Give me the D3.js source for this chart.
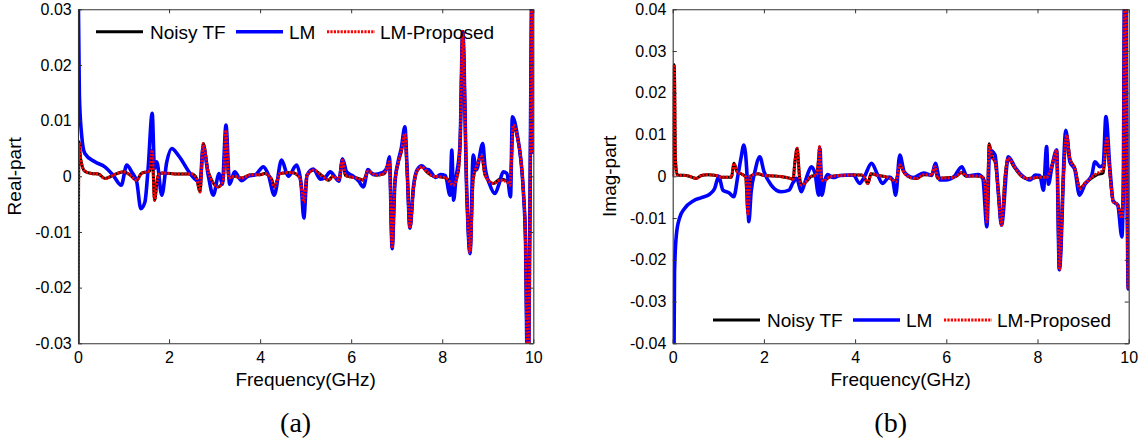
<!DOCTYPE html>
<html>
<head>
<meta charset="utf-8">
<script src="https://cdn.jsdelivr.net/npm/d3@7"></script>
<style>
  body { margin: 0; background: #fff; }
  svg text { font-family: Arial, "Liberation Sans", sans-serif; fill: #000; }
</style>
</head>
<body>
<svg id="chart" width="1143" height="442"></svg>
<script>
// ---- tick values ----
const freqTicks = [0, 2, 4, 6, 8, 10];
const realTicks = [-0.03, -0.02, -0.01, 0, 0.01, 0.02, 0.03];
const imagTicks = [-0.04, -0.03, -0.02, -0.01, 0, 0.01, 0.02, 0.03, 0.04];
const seriesNames = ["Noisy TF", "LM", "LM-Proposed"];

// ---- real part: [frequency (GHz), value] ----
const realNoisy = [
  [0, -0.04], [0.02, 0.0062], [0.06, 0.003], [0.15, 0.0009], [0.3, 0.0005], [0.45, 0.0004],
  [0.59, -0.0004], [0.8, 0.0003], [1.0, 0.0008], [1.15, 0.0002], [1.29, -0.0007], [1.39, 0.0005],
  [1.51, 0.0008], [1.58, 0.001], [1.63, 0.0047], [1.68, -0.0043], [1.76, 0.0002], [1.85, 0.0006],
  [2.2, 0.0004], [2.5, 0.0004], [2.6, -0.0003], [2.68, -0.0028], [2.75, 0.0059], [2.86, 0.0008],
  [3.08, -0.0019], [3.19, -0.0007], [3.25, 0.0083], [3.31, -0.0003], [3.44, 0], [3.59, -0.0003],
  [3.8, 0.0003], [4.0, 0.0003], [4.1, 0.0005], [4.25, -0.0005], [4.31, -0.0019], [4.44, 0.0005],
  [4.69, 0.0007], [4.87, -0.0002], [4.96, -0.0046], [5.03, 0.0002], [5.17, 0.0011], [5.39, -0.0001],
  [5.5, -0.0007], [5.6, 0], [5.73, -0.0006], [5.81, 0.0031], [5.87, 0.0002], [5.98, -0.0001],
  [6.12, -0.0003], [6.27, -0.0007], [6.37, 0.0009], [6.55, 0.0002], [6.73, 0.0005], [6.84, 0.0026],
  [6.9, -0.0129], [6.96, -0.001], [7.03, 0.0023], [7.1, 0.0044], [7.18, 0.0077], [7.23, 0.0005],
  [7.29, -0.0093], [7.37, -0.002], [7.45, 0.001], [7.55, 0.0017], [7.66, 0.0008], [7.81, 0],
  [7.96, -0.0001], [8.1, -0.0004], [8.24, -0.0016], [8.35, 0.0008], [8.39, 0.0056], [8.45, 0.026],
  [8.54, -0.0034], [8.61, -0.0137], [8.68, -0.0005], [8.75, 0.0017], [8.87, 0.0035], [8.94, 0.0002],
  [9.12, -0.0013], [9.27, -0.0005], [9.42, -0.0008], [9.49, -0.0016], [9.56, 0.009], [9.64, 0.0074],
  [9.78, -0.0025], [9.83, -0.012], [9.87, -0.035], [9.9, -0.032], [9.94, 0.01], [9.97, 0.035], [10, 0.004]
];
const realLM = [
  [0, 0.045], [0.01, 0.03], [0.03, 0.0146], [0.08, 0.0074], [0.15, 0.0041], [0.37, 0.0026],
  [0.59, 0.0017], [0.77, 0.0002], [0.95, -0.0016], [1.07, 0.002], [1.18, 0.0008], [1.29, -0.001],
  [1.38, -0.0058], [1.47, -0.0046], [1.54, 0.0014], [1.63, 0.0113], [1.68, 0.0014], [1.73, 0.0026],
  [1.84, -0.0034], [1.95, 0.0026], [2.06, 0.005], [2.2, 0.0038], [2.49, 0.0002], [2.6, -0.0007],
  [2.68, -0.001], [2.75, 0.0054], [2.86, 0.0002], [2.97, -0.0034], [3.1, 0.0005], [3.17, -0.0014],
  [3.25, 0.0092], [3.33, -0.0014], [3.44, 0.0008], [3.59, -0.0008], [3.73, 0], [3.9, 0.0003],
  [4.07, 0.0017], [4.18, 0.0003], [4.31, -0.0034], [4.47, 0.0029], [4.62, 0], [4.8, 0.002],
  [4.9, -0.0014], [4.96, -0.0075], [5.03, 0.0002], [5.17, 0.0013], [5.32, -0.0005], [5.43, -0.0002],
  [5.54, 0.0008], [5.65, -0.0002], [5.73, -0.0009], [5.81, 0.0031], [5.9, 0.0008], [6.05, 0],
  [6.16, -0.0008], [6.27, -0.0019], [6.37, 0.0012], [6.48, 0.0003], [6.7, 0.0007], [6.79, 0.0017],
  [6.84, 0.0035], [6.9, -0.013], [6.96, -0.0013], [7.03, 0.0026], [7.1, 0.005], [7.18, 0.0089],
  [7.23, 0.001], [7.29, -0.0093], [7.37, -0.0017], [7.45, 0.0012], [7.55, 0.0019], [7.64, 0.0013],
  [7.72, 0.0011], [7.85, -0.0002], [7.96, 0.0003], [8.07, 0.0001], [8.17, -0.0034], [8.21, 0.0047],
  [8.25, -0.0043], [8.3, -0.0005], [8.39, 0.0056], [8.45, 0.026], [8.54, -0.0034], [8.61, -0.0139],
  [8.68, 0.0038], [8.75, 0.0012], [8.89, 0.0059], [8.94, 0.0017], [9.04, -0.0014], [9.16, -0.0031],
  [9.25, -0.0013], [9.34, 0.0008], [9.42, 0.0005], [9.5, -0.0037], [9.54, 0.0107], [9.64, 0.0078],
  [9.78, -0.0025], [9.83, -0.012], [9.87, -0.035], [9.9, -0.032], [9.94, 0.01], [9.97, 0.035], [10, 0.004]
];
const realProposed = [
  [0, -0.04], [0.02, 0.0062], [0.06, 0.003], [0.15, 0.0009], [0.3, 0.0005], [0.45, 0.0004],
  [0.59, -0.0004], [0.8, 0.0003], [1.0, 0.0008], [1.15, 0.0002], [1.29, -0.0007], [1.39, 0.0005],
  [1.51, 0.0008], [1.58, 0.001], [1.63, 0.0047], [1.68, -0.0043], [1.76, 0.0002], [1.85, 0.0006],
  [2.2, 0.0004], [2.5, 0.0004], [2.6, -0.0003], [2.68, -0.0028], [2.75, 0.0059], [2.86, 0.0008],
  [3.08, -0.0019], [3.19, -0.0007], [3.25, 0.0083], [3.31, -0.0003], [3.44, 0], [3.59, -0.0003],
  [3.8, 0.0003], [4.0, 0.0003], [4.1, 0.0005], [4.25, -0.0005], [4.31, -0.0019], [4.44, 0.0005],
  [4.69, 0.0007], [4.87, -0.0002], [4.96, -0.0046], [5.03, 0.0002], [5.17, 0.0011], [5.39, -0.0001],
  [5.5, -0.0007], [5.6, 0], [5.73, -0.0006], [5.81, 0.0029], [5.87, 0.0002], [5.98, -0.0001],
  [6.12, -0.0003], [6.27, -0.0007], [6.37, 0.0009], [6.55, 0.0002], [6.73, 0.0005], [6.84, 0.0026],
  [6.9, -0.0129], [6.96, -0.001], [7.03, 0.0023], [7.1, 0.0044], [7.18, 0.0077], [7.23, 0.0005],
  [7.29, -0.0093], [7.37, -0.002], [7.45, 0.001], [7.55, 0.0017], [7.66, 0.0008], [7.81, 0],
  [7.96, -0.0001], [8.1, -0.0004], [8.24, -0.0016], [8.35, 0.0008], [8.39, 0.0056], [8.45, 0.026],
  [8.54, -0.0034], [8.61, -0.0137], [8.68, -0.0005], [8.75, 0.0017], [8.87, 0.0035], [8.94, 0.0002],
  [9.12, -0.0013], [9.27, -0.0007], [9.42, -0.001], [9.49, -0.0016], [9.56, 0.0092], [9.64, 0.0074],
  [9.78, -0.0025], [9.83, -0.012], [9.87, -0.035], [9.9, -0.032], [9.94, 0.01], [9.97, 0.035], [10, 0.004]
];

// ---- imaginary part: [frequency (GHz), value] ----
const imagNoisy = [
  [0, 0], [0.035, 0.0267], [0.06, 0.004], [0.1, 0.0003], [0.3, 0.0002], [0.52, -0.0005],
  [0.63, 0.0002], [0.77, 0.0004], [0.95, 0.0002], [1.07, -0.0002], [1.29, -0.0002], [1.34, 0.0031],
  [1.42, 0.001], [1.52, 0.0005], [1.6, -0.0002], [1.65, -0.009], [1.7, 0], [1.87, 0.0006],
  [2.0, 0.0002], [2.2, 0.0001], [2.4, -0.0001], [2.58, -0.0005], [2.64, -0.0007], [2.68, 0.0035],
  [2.73, 0.0067], [2.78, 0], [2.82, -0.0021], [2.93, -0.0012], [3.04, 0], [3.15, 0.0003],
  [3.2, 0.0043], [3.22, 0.0071], [3.26, -0.0004], [3.31, -0.0011], [3.45, -0.0001], [3.67, 0.0002],
  [3.96, 0.0003], [4.14, 0.0003], [4.2, -0.0002], [4.28, -0.0017], [4.35, 0.0006], [4.5, 0.0002],
  [4.7, -0.0002], [4.85, -0.001], [4.89, -0.0013], [4.98, 0.0027], [5.08, 0.0008], [5.21, -0.0003],
  [5.35, -0.0005], [5.5, 0.0004], [5.68, 0.0003], [5.75, 0.0023], [5.81, -0.0005], [5.96, -0.0004],
  [6.18, -0.0002], [6.34, 0.0009], [6.42, 0.0001], [6.64, 0.0001], [6.8, -0.0002], [6.85, -0.0021],
  [6.89, -0.0109], [6.94, 0.0078], [7.0, 0.0047], [7.07, 0.0035], [7.14, -0.0037], [7.21, -0.0117],
  [7.29, 0.0001], [7.36, 0.0043], [7.47, 0.0025], [7.63, 0.0002], [7.77, -0.0006], [7.92, -0.0004],
  [8.06, -0.0002], [8.2, -0.0002], [8.27, 0.001], [8.35, 0.0039], [8.42, 0.0063], [8.48, -0.0224],
  [8.57, 0.0004], [8.64, 0.0099], [8.71, 0.0043], [8.82, 0.0019], [8.93, -0.0029], [9.04, -0.0017],
  [9.19, -0.0004], [9.29, 0.0003], [9.44, 0.0008], [9.52, 0.0088], [9.59, 0.0004], [9.66, -0.0061],
  [9.76, -0.0069], [9.85, -0.01], [9.88, -0.004], [9.91, 0.045], [9.94, 0.04], [9.97, -0.01],
  [9.99, -0.027], [10, -0.02]
];
const imagLM = [
  [0, -0.06], [0.03, -0.04], [0.04, -0.0228], [0.08, -0.0141], [0.15, -0.01], [0.26, -0.0077],
  [0.45, -0.0059], [0.63, -0.0051], [0.81, -0.0043], [0.92, -0.0029], [1.01, 0], [1.1, -0.0033],
  [1.24, -0.004], [1.34, -0.0049], [1.43, 0.0002], [1.5, 0.0045], [1.56, 0.0075], [1.63, 0.0002],
  [1.67, -0.0109], [1.72, -0.0037], [1.8, 0.001], [1.91, 0.0047], [2.0, 0.0012], [2.16, -0.0021],
  [2.38, -0.0037], [2.55, -0.0033], [2.64, -0.0015], [2.72, -0.0005], [2.82, -0.0037], [2.89, -0.0018],
  [2.96, 0.0005], [3.04, 0.0023], [3.12, 0.0007], [3.2, -0.0045], [3.23, 0.0066], [3.27, -0.0045],
  [3.35, -0.0005], [3.4, 0.0004], [3.52, -0.0003], [3.67, 0.0002], [3.96, 0.0003], [4.1, -0.0017],
  [4.2, -0.0002], [4.36, 0.0031], [4.5, 0.0002], [4.6, -0.0017], [4.75, -0.0002], [4.82, -0.0008],
  [4.89, -0.0045], [4.98, 0.0051], [5.08, 0.001], [5.28, -0.0003], [5.5, 0.0008], [5.68, 0.0002],
  [5.76, 0.0031], [5.86, -0.0009], [5.99, -0.0009], [6.17, -0.0001], [6.34, 0.0023], [6.45, 0.0001],
  [6.7, 0.0004], [6.8, -0.0005], [6.89, -0.0121], [6.95, 0.0063], [7.07, 0.0051], [7.14, -0.0037],
  [7.21, -0.0117], [7.36, 0.0047], [7.5, 0.0023], [7.65, 0.0003], [7.84, -0.0009], [7.95, 0.0003],
  [8.05, 0.0002], [8.13, -0.0033], [8.2, 0.0071], [8.24, -0.0019], [8.31, 0.0019], [8.42, 0.0063],
  [8.48, -0.0224], [8.62, 0.011], [8.71, 0.0035], [8.82, 0.0015], [8.92, -0.0045], [9.04, -0.0019],
  [9.19, 0.0003], [9.26, 0.0035], [9.37, 0.0023], [9.44, 0.0027], [9.5, 0.0143], [9.59, 0.0016],
  [9.66, -0.0059], [9.76, -0.0069], [9.85, -0.0145], [9.88, -0.004], [9.91, 0.045], [9.94, 0.04],
  [9.97, -0.01], [9.99, -0.027], [10, -0.02]
];
const imagProposed = [
  [0, 0], [0.035, 0.0267], [0.06, 0.004], [0.1, 0.0003], [0.3, 0.0002], [0.52, -0.0005],
  [0.63, 0.0002], [0.77, 0.0004], [0.95, 0.0002], [1.07, -0.0002], [1.29, -0.0002], [1.34, 0.0031],
  [1.42, 0.001], [1.52, 0.0005], [1.6, -0.0002], [1.65, -0.009], [1.7, 0], [1.87, 0.0006],
  [2.0, 0.0002], [2.2, 0.0001], [2.4, -0.0001], [2.58, -0.0005], [2.64, -0.0007], [2.68, 0.0035],
  [2.73, 0.0067], [2.78, 0], [2.82, -0.0021], [2.93, -0.0012], [3.04, 0], [3.15, 0.0003],
  [3.2, 0.0043], [3.22, 0.0071], [3.26, -0.0004], [3.31, -0.0011], [3.45, -0.0001], [3.67, 0.0002],
  [3.96, 0.0003], [4.14, 0.0003], [4.2, -0.0002], [4.28, -0.0017], [4.35, 0.0006], [4.5, 0.0002],
  [4.7, -0.0002], [4.85, -0.001], [4.89, -0.0013], [4.98, 0.0027], [5.08, 0.0008], [5.21, -0.0003],
  [5.35, -0.0005], [5.5, 0.0004], [5.68, 0.0003], [5.75, 0.0023], [5.81, -0.0005], [5.96, -0.0004],
  [6.18, -0.0002], [6.34, 0.0009], [6.42, 0.0001], [6.64, 0.0001], [6.8, -0.0002], [6.85, -0.0021],
  [6.89, -0.0109], [6.94, 0.0075], [7.0, 0.0047], [7.07, 0.0035], [7.14, -0.0037], [7.21, -0.0117],
  [7.29, 0.0001], [7.36, 0.0043], [7.47, 0.0027], [7.63, 0.0003], [7.77, -0.0005], [7.92, -0.0004],
  [8.06, -0.0002], [8.2, -0.0002], [8.27, 0.001], [8.35, 0.0039], [8.42, 0.0063], [8.48, -0.0224],
  [8.57, 0.0004], [8.64, 0.0099], [8.71, 0.0043], [8.82, 0.0019], [8.93, -0.0029], [9.04, -0.0017],
  [9.19, -0.0002], [9.29, 0.0006], [9.44, 0.0015], [9.52, 0.0091], [9.59, 0.0004], [9.66, -0.0061],
  [9.76, -0.0069], [9.85, -0.01], [9.88, -0.004], [9.91, 0.045], [9.94, 0.04], [9.97, -0.01],
  [9.99, -0.027], [10, -0.02]
];

// ---- line styles per series ----
const seriesStyle = [
  { color: "#000000", width: 3, dash: null },
  { color: "#0000ff", width: 3.6, dash: null },
  { color: "#ff0000", width: 3, dash: "2.2,1.2" }
];

const svg = d3.select("#chart");

const panels = [
  {
    id: "re", x0: 78, x1: 533.3, y0: 9.3, y1: 343.3,
    yDomain: [-0.03, 0.03], yTicks: realTicks, yLabel: "Real-part", tag: "(a)",
    data: [realNoisy, realLM, realProposed],
    legend: { y: 31.7, items: [[96, 143, 150], [236, 283, 289], [327, 375, 380]] }
  },
  {
    id: "im", x0: 672.7, x1: 1128.7, y0: 9.3, y1: 343.3,
    yDomain: [-0.04, 0.04], yTicks: imagTicks, yLabel: "Imag-part", tag: "(b)",
    data: [imagNoisy, imagLM, imagProposed],
    legend: { y: 320, items: [[713, 760, 767], [853, 900, 906], [944, 992, 997]] }
  }
];

const fmt = v => (v === 0 ? "0" : String(+v.toFixed(2)));

panels.forEach(p => {
  const x = d3.scaleLinear().domain([0, 10]).range([p.x0, p.x1]);
  const y = d3.scaleLinear().domain(p.yDomain).range([p.y1, p.y0]);
  const g = svg.append("g");

  g.append("clipPath").attr("id", "clip-" + p.id)
    .append("rect")
    .attr("x", p.x0).attr("y", p.y0)
    .attr("width", p.x1 - p.x0).attr("height", p.y1 - p.y0);

  // curves
  const line = d3.line()
    .x(d => x(d[0]))
    .y(d => y(d[1]))
    .curve(d3.curveMonotoneX);

  const plot = g.append("g").attr("clip-path", `url(#clip-${p.id})`);
  p.data.forEach((series, i) => {
    const s = seriesStyle[i];
    plot.append("path")
      .datum(series)
      .attr("d", line)
      .attr("fill", "none")
      .attr("stroke", s.color)
      .attr("stroke-width", s.width)
      .attr("stroke-linejoin", "round")
      .attr("stroke-dasharray", s.dash);
  });

  // axes with inward ticks on all four sides
  const axisColor = "#333";
  const bottom = g.append("g").attr("transform", `translate(0,${p.y1})`)
    .call(d3.axisBottom(x).tickValues(freqTicks).tickSizeInner(-4).tickSizeOuter(0)
      .tickPadding(8.5).tickFormat(d3.format("d")));
  const top = g.append("g").attr("transform", `translate(0,${p.y0})`)
    .call(d3.axisTop(x).tickValues(freqTicks).tickSizeInner(-4).tickSizeOuter(0).tickFormat(""));
  const left = g.append("g").attr("transform", `translate(${p.x0},0)`)
    .call(d3.axisLeft(y).tickValues(p.yTicks).tickSizeInner(-4).tickSizeOuter(0)
      .tickPadding(6.3).tickFormat(fmt));
  const right = g.append("g").attr("transform", `translate(${p.x1},0)`)
    .call(d3.axisRight(y).tickValues(p.yTicks).tickSizeInner(-4).tickSizeOuter(0).tickFormat(""));

  [bottom, top, left, right].forEach(a => {
    a.selectAll("path.domain").attr("stroke", axisColor).attr("stroke-width", 1.1);
    a.selectAll(".tick line").attr("stroke", axisColor).attr("stroke-width", 1);
    a.selectAll(".tick text")
      .attr("font-size", 16)
      .attr("font-family", "Arial, 'Liberation Sans', sans-serif")
      .attr("fill", "#000");
  });

  // axis labels
  g.append("text")
    .attr("x", (p.x0 + p.x1) / 2).attr("y", 385.5)
    .attr("text-anchor", "middle").attr("font-size", 19)
    .text("Frequency(GHz)");
  g.append("text")
    .attr("transform", `translate(${p.x0 - 57},${(p.y0 + p.y1) / 2}) rotate(-90)`)
    .attr("text-anchor", "middle").attr("font-size", 19)
    .text(p.yLabel);

  // panel tag
  g.append("text")
    .attr("x", (p.x0 + p.x1) / 2 - 10).attr("y", 432)
    .attr("text-anchor", "middle")
    .attr("font-size", 28)
    .style("font-family", "'Liberation Serif', 'Times New Roman', serif")
    .text(p.tag);

  // legend
  p.legend.items.forEach((it, i) => {
    const s = seriesStyle[i];
    g.append("line")
      .attr("x1", it[0]).attr("x2", it[1])
      .attr("y1", p.legend.y).attr("y2", p.legend.y)
      .attr("stroke", s.color).attr("stroke-width", s.width)
      .attr("stroke-dasharray", s.dash);
    g.append("text")
      .attr("x", it[2]).attr("y", p.legend.y + 6.8)
      .attr("font-size", 19)
      .text(seriesNames[i]);
  });
});
</script>
</body>
</html>
